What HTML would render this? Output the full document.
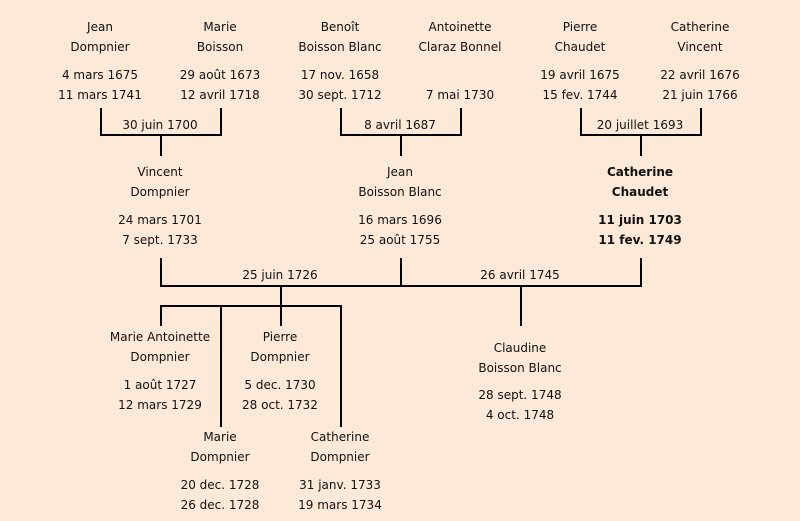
<!DOCTYPE html>
<html><head><meta charset="utf-8"><style>
html,body{margin:0;padding:0}
body{width:800px;height:521px;background:#fce9d7;position:relative;overflow:hidden;font-family:"DejaVu Sans","Liberation Sans",sans-serif;font-size:12px;color:#111}
.t{position:absolute;width:160px;margin-left:-80px;text-align:center;line-height:20px;white-space:nowrap}
.b{font-weight:bold}
svg{position:absolute;left:0;top:0}
</style></head><body>
<svg width="800" height="521">
<g stroke="#000" stroke-width="2" fill="none">
<path d="M101 108V135H221V108M161 135V156"/>
<path d="M341 108V135H461V108M401 135V156"/>
<path d="M581 108V135H701V108M641 135V156"/>
<path d="M161 258V286H641V258M401 258V286"/>
<path d="M281 286V306M161 326V306H341V427M221 306V427M281 306V326"/>
<path d="M521 286V326"/>
</g></svg>
<div class="t" style="left:100px;top:17px">Jean<br>Dompnier</div>
<div class="t" style="left:100px;top:65px">4 mars 1675<br>11 mars 1741</div>
<div class="t" style="left:220px;top:17px">Marie<br>Boisson</div>
<div class="t" style="left:220px;top:65px">29 août 1673<br>12 avril 1718</div>
<div class="t" style="left:340px;top:17px">Benoît<br>Boisson Blanc</div>
<div class="t" style="left:340px;top:65px">17 nov. 1658<br>30 sept. 1712</div>
<div class="t" style="left:460px;top:17px">Antoinette<br>Claraz Bonnel</div>
<div class="t" style="left:460px;top:85px">7 mai 1730</div>
<div class="t" style="left:580px;top:17px">Pierre<br>Chaudet</div>
<div class="t" style="left:580px;top:65px">19 avril 1675<br>15 fev. 1744</div>
<div class="t" style="left:700px;top:17px">Catherine<br>Vincent</div>
<div class="t" style="left:700px;top:65px">22 avril 1676<br>21 juin 1766</div>
<div class="t" style="left:160px;top:115px">30 juin 1700</div>
<div class="t" style="left:400px;top:115px">8 avril 1687</div>
<div class="t" style="left:640px;top:115px">20 juillet 1693</div>
<div class="t" style="left:160px;top:162px">Vincent<br>Dompnier</div>
<div class="t" style="left:160px;top:210px">24 mars 1701<br>7 sept. 1733</div>
<div class="t" style="left:400px;top:162px">Jean<br>Boisson Blanc</div>
<div class="t" style="left:400px;top:210px">16 mars 1696<br>25 août 1755</div>
<div class="t b" style="left:640px;top:162px">Catherine<br>Chaudet</div>
<div class="t b" style="left:640px;top:210px">11 juin 1703<br>11 fev. 1749</div>
<div class="t" style="left:280px;top:265px">25 juin 1726</div>
<div class="t" style="left:520px;top:265px">26 avril 1745</div>
<div class="t" style="left:160px;top:327px">Marie Antoinette<br>Dompnier</div>
<div class="t" style="left:160px;top:375px">1 août 1727<br>12 mars 1729</div>
<div class="t" style="left:280px;top:327px">Pierre<br>Dompnier</div>
<div class="t" style="left:280px;top:375px">5 dec. 1730<br>28 oct. 1732</div>
<div class="t" style="left:520px;top:338px">Claudine<br>Boisson Blanc</div>
<div class="t" style="left:520px;top:385px">28 sept. 1748<br>4 oct. 1748</div>
<div class="t" style="left:220px;top:427px">Marie<br>Dompnier</div>
<div class="t" style="left:220px;top:475px">20 dec. 1728<br>26 dec. 1728</div>
<div class="t" style="left:340px;top:427px">Catherine<br>Dompnier</div>
<div class="t" style="left:340px;top:475px">31 janv. 1733<br>19 mars 1734</div>
</body></html>
